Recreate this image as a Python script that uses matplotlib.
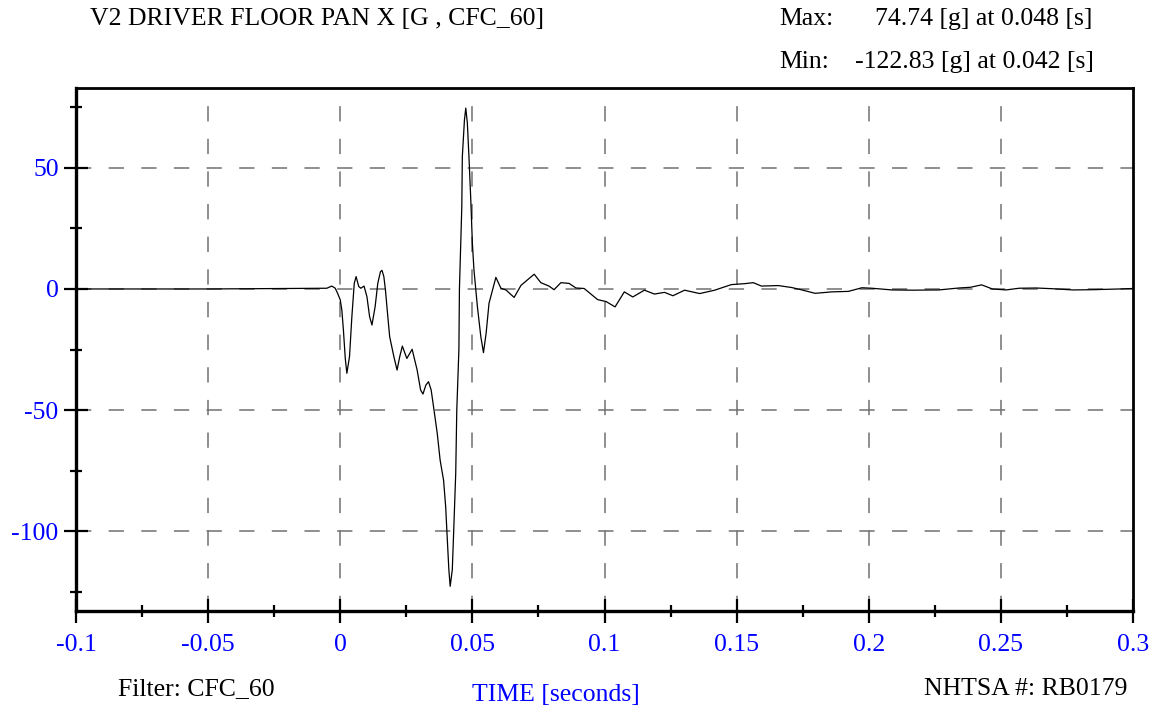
import numpy as np
import matplotlib
matplotlib.use("Agg")
import matplotlib.pyplot as plt
from matplotlib.ticker import MultipleLocator

# time [s] and acceleration [g]
time_s = [-0.1, -0.05, -0.0051, -0.0032, -0.0019, -0.001, 0.0, 0.0006, 0.0012, 0.0019,
          0.0025, 0.0035, 0.0044, 0.0053, 0.006, 0.007, 0.0078, 0.009, 0.0101, 0.0111,
          0.012, 0.0132, 0.0142, 0.0152, 0.0158, 0.0165, 0.0171, 0.018, 0.0187, 0.0203,
          0.0215, 0.0225, 0.0235, 0.0252, 0.0272, 0.0291, 0.0304, 0.0313, 0.0324, 0.0334,
          0.0344, 0.0353, 0.0367, 0.0378, 0.0391, 0.0399, 0.0404, 0.0411, 0.0416, 0.0424,
          0.0429, 0.0437, 0.0441, 0.0449, 0.0451, 0.046, 0.0462, 0.047, 0.0475, 0.0481,
          0.0487, 0.0494, 0.05, 0.0506, 0.0519, 0.0532, 0.0542, 0.0552, 0.0563, 0.0589,
          0.0608, 0.0627, 0.0658, 0.0684, 0.0734, 0.0759, 0.079, 0.0809, 0.0835, 0.0866,
          0.0892, 0.0923, 0.0974, 0.1006, 0.104, 0.1075, 0.1107, 0.1151, 0.1189, 0.1227,
          0.1259, 0.1303, 0.136, 0.1417, 0.148, 0.1531, 0.1563, 0.1594, 0.1658, 0.1708,
          0.174, 0.1797, 0.186, 0.1923, 0.1974, 0.2012, 0.2088, 0.2164, 0.2265, 0.2341,
          0.2385, 0.2427, 0.2468, 0.2519, 0.2569, 0.2633, 0.2696, 0.2772, 0.2848, 0.2949,
          0.3]
accel_g = [0.0, 0.0, 0.3, 1.2, 0.3, -1.8, -4.5, -8.7, -17.0, -28.7,
           -34.8, -28.0, -11.4, 2.3, 5.1, 1.0, 0.3, 1.2, -3.2, -11.4,
           -14.9, -7.3, 2.3, 7.1, 7.7, 5.1, -0.4, -11.4, -19.7, -28.0,
           -33.5, -28.0, -23.6, -28.7, -24.9, -33.5, -41.7, -43.4, -39.7, -38.3,
           -41.7, -48.6, -59.6, -70.7, -79.0, -90.0, -101.0, -116.0, -122.8, -116.0,
           -101.0, -76.0, -50.0, -25.0, 0.0, 34.0, 54.7, 69.8, 74.7, 68.5,
           54.7, 36.8, 18.9, 7.9, -7.3, -19.7, -26.3, -18.3, -5.9, 4.8,
           0.3, -0.4, -3.5, 1.5, 6.1, 2.6, 1.2, -0.3, 2.6, 2.3,
           0.4, 0.2, -4.4, -5.2, -7.4, -1.2, -3.3, -0.5, -2.1, -1.4,
           -2.8, -0.5, -1.9, -0.5, 1.8, 2.2, 2.6, 1.2, 1.4, 0.6,
           -0.2, -1.8, -1.2, -1.0, 0.5, 0.3, -0.4, -0.5, -0.4, 0.4,
           0.7, 1.7, 0.0, -0.4, 0.3, 0.4, 0.1, -0.4, -0.3, 0.0,
           0.2]

title = "V2 DRIVER FLOOR PAN X [G , CFC_60]"
max_text = "74.74 [g] at 0.048 [s]"
min_text = "-122.83 [g] at 0.042 [s]"
filter_text = "Filter: CFC_60"
test_text = "NHTSA #: RB0179"
x_label = "TIME [seconds]"
x_ticks = [-0.1, -0.05, 0, 0.05, 0.1, 0.15, 0.2, 0.25, 0.3]
x_tick_labels = ["-0.1", "-0.05", "0", "0.05", "0.1", "0.15", "0.2", "0.25", "0.3"]
y_ticks = [-100, -50, 0, 50]
y_tick_labels = ["-100", "-50", "0", "50"]

plt.rcParams['font.family'] = ['Liberation Serif', 'DejaVu Serif']
plt.rcParams['lines.scale_dashes'] = False
plt.rcParams['axes.unicode_minus'] = False

fs = 18.5

fig = plt.figure(figsize=(11.57, 7.10), dpi=100)
ax = fig.add_axes([76 / 1157, 99 / 710, 1057 / 1157, 523 / 710])

# dashed grid
for x in x_ticks[1:-1]:
    ax.axvline(x, color='#707070', lw=1.1, dashes=(11, 12.5), zorder=1)
for y in y_ticks:
    ax.axhline(y, color='#707070', lw=1.1, dashes=(11, 12.5), zorder=1)

ax.plot(time_s, accel_g, color='black', lw=0.9, zorder=3)

ax.set_xlim(-0.1, 0.3)
ax.set_ylim(-133, 83)
ax.set_xticks(x_ticks)
ax.set_xticklabels(x_tick_labels)
ax.set_yticks(y_ticks)
ax.set_yticklabels(y_tick_labels)
ax.xaxis.set_minor_locator(MultipleLocator(0.025))
ax.yaxis.set_minor_locator(MultipleLocator(25))

ax.tick_params(axis='both', which='major', direction='inout', length=17, width=1.6,
               labelsize=fs, labelcolor='blue', color='black')
ax.tick_params(axis='both', which='minor', direction='inout', length=8, width=1.6)
ax.tick_params(axis='x', which='major', pad=8)
ax.tick_params(axis='y', which='major', pad=4)

ax.spines['left'].set_linewidth(2.4)
ax.spines['bottom'].set_linewidth(2.4)
ax.spines['top'].set_linewidth(2.0)
ax.spines['right'].set_linewidth(2.0)

fig.text(90 / 1157, 1 - 19 / 710, title, fontsize=fs, ha='left', va='center')
fig.text(779 / 1157, 1 - 19 / 710, "Max:", fontsize=fs, ha='left', va='center')
fig.text(1092 / 1157, 1 - 19 / 710, max_text, fontsize=fs, ha='right', va='center')
fig.text(779 / 1157, 1 - 62 / 710, "Min:", fontsize=fs, ha='left', va='center')
fig.text(1094 / 1157, 1 - 62 / 710, min_text, fontsize=fs, ha='right', va='center')
fig.text(118 / 1157, 1 - 689 / 710, filter_text, fontsize=fs, ha='left', va='center')
fig.text(556 / 1157, 1 - 695 / 710, x_label, fontsize=fs, ha='center', va='center',
         color='blue')
fig.text(1127 / 1157, 1 - 689 / 710, test_text, fontsize=fs, ha='right', va='center')

fig.savefig("out.png", dpi=100)
